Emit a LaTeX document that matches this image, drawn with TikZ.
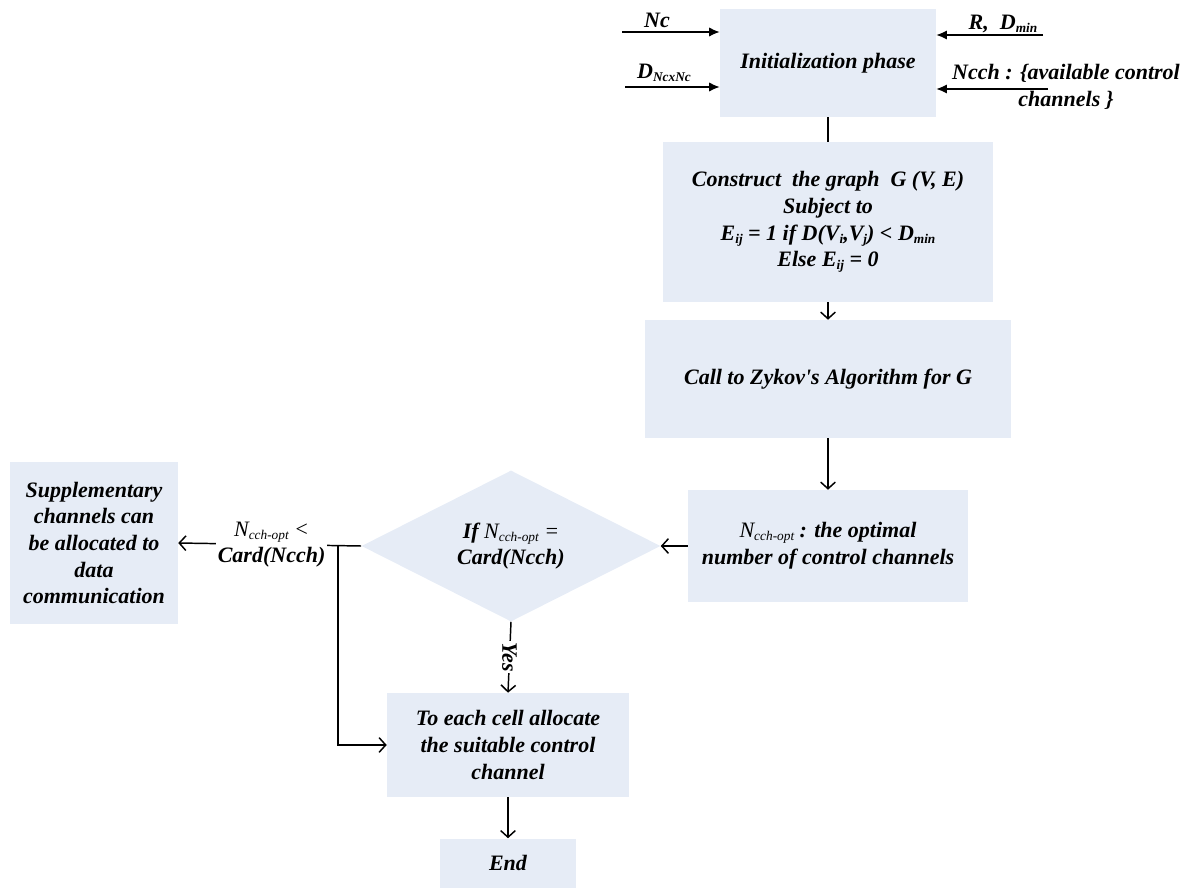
\documentclass[tikz,border=0pt]{standalone}
\usepackage{fontspec}
\setmainfont{Liberation Serif}
\usetikzlibrary{arrows.meta,shapes.geometric}
\definecolor{boxfill}{RGB}{230,236,246}
\newcommand\sbs[1]{\raisebox{-0.3ex}{\fontsize{10}{10}\selectfont #1}}
\newcommand\ncopt{{\mdseries N\sbs{cch-opt}}}
\tikzset{
  box/.style={fill=boxfill, inner sep=2pt, align=center},
  lbl/.style={inner sep=1pt, align=center},
  solidtip/.style={line width=1.1pt, -{Latex[length=8pt,width=7pt]}},
  barb/.style={line width=1.1pt, -{Straight Barb[length=5pt,width=11pt,line width=1.1pt]}},
  plainline/.style={line width=1.1pt}
}
\begin{document}
\begin{tikzpicture}[x=0.75pt,y=-0.75pt,font=\fontsize{16.5}{20}\selectfont\bfseries\itshape]
\useasboundingbox (0,0) rectangle (1189,888);

% boxes
\node[box, minimum width=162pt, minimum height=81pt] (init) at (828,63) {Initialization phase};
\node[box, minimum width=247.5pt, minimum height=120pt] (cons) at (828,222)
  {Construct\ \ the graph\ \ G (V, E)\\Subject to\\E\sbs{ij} = 1 if D(V\sbs{i},V\sbs{j}) < D\sbs{min}\\Else E\sbs{ij} = 0};
\node[box, minimum width=274.5pt, minimum height=88.5pt] (call) at (828,379) {Call to Zykov\textquotesingle s Algorithm for G};
\node[box, minimum width=210pt, minimum height=84pt] (opt) at (828,546) {\ncopt\ : the optimal\\number of control channels};
\node[diamond, aspect=2, fill=boxfill, inner sep=0pt, align=center, minimum width=224.25pt, minimum height=113.25pt] (dec) at (511,546)
  {If {\mdseries N\sbs{cch-opt} =}\\Card(Ncch)};
\node[box, minimum width=126pt, minimum height=121.5pt] (supp) at (94,543)
  {Supplementary\\channels can\\be allocated to\\data\\communication};
\node[box, minimum width=181.5pt, minimum height=78pt] (alloc) at (508,745)
  {To each cell allocate\\the suitable control\\channel};
\node[box, minimum width=102pt, minimum height=36.75pt] (end) at (508,863) {End};

% inputs of the initialization phase
\coordinate (nc0) at (622,32);
\coordinate (dn0) at (625,87);
\coordinate (rd0) at (1043,35);
\coordinate (nh0) at (1048,89);
\node[lbl] (lnc) at (657,20) {Nc};
\node[lbl] (ldn) at (664,73) {D\sbs{NcxNc}};
\node[lbl] (lrd) at (1003,24) {R,\ \ D\sbs{min}};
\node[lbl] (lnh) at (1066,87) {Ncch : \{available control\\channels \}};
\draw[solidtip] (nc0) -- (nc0 -| init.west);
\draw[solidtip] (dn0) -- (dn0 -| init.west);
\draw[solidtip] (rd0) -- (rd0 -| init.east);
\draw[solidtip] (nh0) -- (nh0 -| init.east);

% main flow
\draw[plainline] (init.south) -- (cons.north);
\draw[barb] (cons.south) -- (call.north);
\draw[barb] (call.south) -- (opt.north);
\draw[barb] (opt.west) -- (dec.east);
\draw[barb] (dec.west) -- (supp.east)
  node[lbl, fill=white, pos=0.49] (lno) {\ncopt\ {\mdseries <}\\Card(Ncch)};
\coordinate (br) at (338,546);
\draw[barb] (br) |- (alloc.west);
\draw[barb] (dec.south) -- (alloc.north)
  node[lbl, fill=white, midway, rotate=-90, inner sep=1pt] (lyes) {Yes};
\draw[barb] (alloc.south) -- (end.north);
\end{tikzpicture}
\end{document}
